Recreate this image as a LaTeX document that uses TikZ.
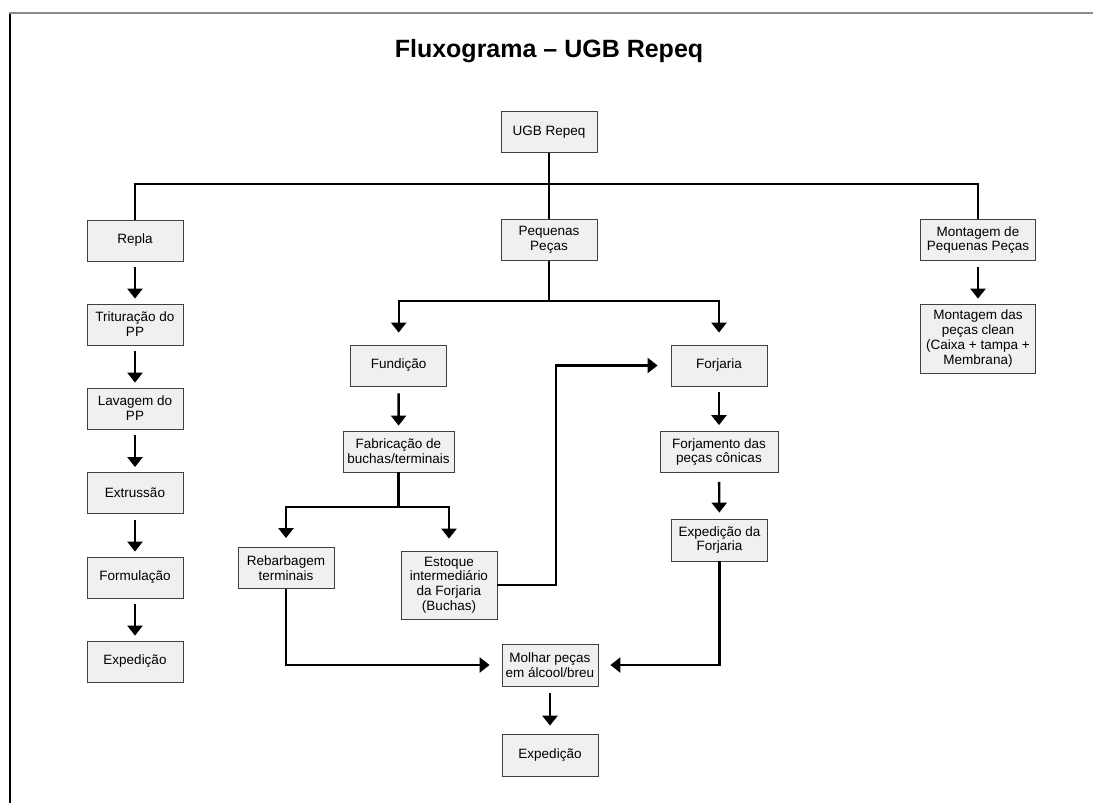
\documentclass[tikz,border=0pt]{standalone}
\usepackage{fontspec}
\setmainfont{Liberation Sans}
\usetikzlibrary{arrows.meta}
\begin{document}
\begin{tikzpicture}[x=1pt,y=-1pt,
  box/.style={draw=black!75, fill=black!6, line width=0.8pt, align=center,
    inner sep=0pt, minimum width=96pt, minimum height=41pt,
    font=\fontsize{13.5}{14.8}\selectfont},
  conn/.style={draw=black, line width=2.4pt},
  arr/.style={conn, -{Triangle[width=15pt,length=10pt]}},
  vgap/.style={shorten <=6pt, shorten >=5pt}
]
\useasboundingbox (0,0) rectangle (1093,803);
\fill[white] (0,0) rectangle (1093,803);
% frame
\draw[black, line width=1.5pt] (10,13) -- (10,803);
\draw[black!45, line width=1.3pt] (9.25,13) -- (1093,13);
% title
\node[anchor=base, font=\fontsize{25}{30}\selectfont\bfseries] (title) at (549,57) {Fluxograma – UGB Repeq};

% nodes
\node[box] (ugb) at (549,132) {UGB Repeq};
\node[box] (repla) at (135,240.5) {Repla};
\node[box] (pequenas) at (549,240) {Pequenas\\Peças};
\node[box, minimum width=115pt] (montagem) at (978,240) {Montagem de\\Pequenas Peças};

\node[box] (trit) at (135,324.5) {Trituração do\\PP};
\node[box] (lav) at (135,408.5) {Lavagem do\\PP};
\node[box] (extr) at (135,493) {Extrussão};
\node[box] (form) at (135,577.5) {Formulação};
\node[box] (exped1) at (135,661.5) {Expedição};

\node[box, minimum width=115pt, minimum height=69pt] (montclean) at (978,338.5) {Montagem das\\peças clean\\(Caixa + tampa +\\Membrana)};

\node[box] (fund) at (398.7,365.5) {Fundição};
\node[box] (forj) at (719,365.5) {Forjaria};
\node[box, minimum width=111pt] (fabr) at (398.5,451.5) {Fabricação de\\buchas/terminais};
\node[box, minimum width=118pt] (forjam) at (719,452) {Forjamento das\\peças cônicas};
\node[box, minimum height=42pt] (expforj) at (719.5,540) {Expedição da\\Forjaria};
\node[box] (rebarb) at (286,568) {Rebarbagem\\terminais};
\node[box, minimum height=68pt] (estoque) at (449,585) {Estoque\\intermediário\\da Forjaria\\(Buchas)};
\node[box, minimum height=42pt] (molhar) at (550,665) {Molhar peças\\em álcool/breu};
\node[box, minimum height=42pt] (exped2) at (550,755) {Expedição};

% junction points
\coordinate (bus) at (549,184);
\coordinate (pj) at (549,301);
\coordinate (fj) at (398.5,507);
\coordinate (ej) at (556,585);

% top bus
\draw[conn] (ugb) -- (bus);
\draw[conn] (bus) -| (repla);
\draw[conn] (bus) -| (montagem);
\draw[conn] (bus) -- (pequenas);

% left column
\draw[arr, vgap] (repla) -- (trit);
\draw[arr, vgap] (trit) -- (lav);
\draw[arr, vgap] (lav) -- (extr);
\draw[arr, vgap] (extr) -- (form);
\draw[arr, vgap] (form) -- (exped1);

% right column
\draw[arr, vgap] (montagem) -- (montclean);

% pequenas pecas branch
\draw[conn] (pequenas) -- (pj);
\draw[arr, shorten >=12pt] (pj) -| (fund);
\draw[arr, shorten >=12pt] (pj) -| (forj);

\draw[arr, shorten <=7pt, shorten >=5pt] (fund) -- (fabr);
\draw[arr, shorten <=6pt, shorten >=6pt] (forj) -- (forjam);
\draw[arr, shorten <=9pt, shorten >=6pt] (forjam) -- (expforj);

% fabricacao branch
\draw[conn] (fabr) -- (fj);
\draw[arr, shorten >=9pt] (fj) -| (rebarb);
\draw[arr, shorten >=12pt] (fj) -| (estoque);

% estoque to forjaria
\draw[arr, shorten >=13pt] (estoque.east) -- (ej) |- (forj);

% to molhar
\draw[arr, shorten >=12pt] (rebarb) |- (molhar);
\draw[arr, shorten >=12pt] (expforj) |- (molhar);
\draw[arr, shorten <=7pt, shorten >=8pt] (molhar) -- (exped2);
\end{tikzpicture}
\end{document}
